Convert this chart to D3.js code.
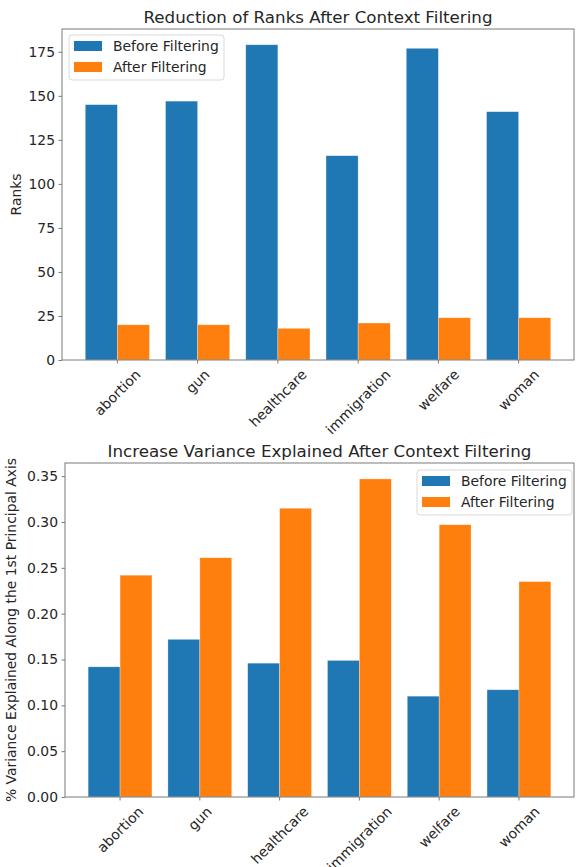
<!DOCTYPE html>
<html>
<head>
<meta charset="utf-8">
<script src="https://cdn.jsdelivr.net/npm/d3@7"></script>
<style>
  body { margin: 0; background: #fff; }
  text { font-family: "DejaVu Sans", sans-serif; fill: #262626; }
</style>
</head>
<body>
<script>
/* data */
var topics = ['abortion', 'gun', 'healthcare', 'immigration', 'welfare', 'woman'];
var seriesNames = ['Before Filtering', 'After Filtering'];
var colors = ['#1f77b4', '#ff7f0e'];
var ranksBefore = [145, 147, 179, 116, 177, 141];
var ranksAfter = [20, 20, 18, 21, 24, 24];
var rankTicks = [0, 25, 50, 75, 100, 125, 150, 175];
var varBefore = [0.142, 0.172, 0.146, 0.149, 0.110, 0.117];
var varAfter = [0.242, 0.261, 0.315, 0.347, 0.297, 0.235];
var varTicks = [0, 0.05, 0.10, 0.15, 0.20, 0.25, 0.30, 0.35];

var FS = 13.9; // 10pt
var svg = d3.select('body').append('svg')
  .attr('width', 577)
  .attr('height', 867);

function drawPanel(opt) {
  var g = svg.append('g');
  var x = d3.scaleLinear().domain([-0.69, 5.69]).range([opt.left, opt.right]);
  var maxV = d3.max(opt.before.concat(opt.after)) * 1.05;
  var y = d3.scaleLinear().domain([0, maxV]).range([opt.bottom, opt.top]);
  var bw = x(0.4) - x(0);

  // bars
  [opt.before, opt.after].forEach(function (vals, s) {
    g.selectAll(null).data(vals).enter().append('rect')
      .attr('x', function (d, i) { return s === 0 ? x(i - 0.4) : x(i); })
      .attr('y', function (d) { return y(d); })
      .attr('width', bw)
      .attr('height', function (d) { return y(0) - y(d); })
      .attr('fill', colors[s])
      .attr('stroke', '#fff')
      .attr('stroke-opacity', 0.5)
      .attr('stroke-width', 0.6);
  });

  // frame
  g.append('rect')
    .attr('x', opt.left).attr('y', opt.top)
    .attr('width', opt.right - opt.left).attr('height', opt.bottom - opt.top)
    .attr('fill', 'none').attr('stroke', '#7a7a7a').attr('stroke-width', 1);

  // y axis
  var yAxis = d3.axisLeft(y).tickValues(opt.ticks).tickSize(3.5).tickPadding(3.5)
    .tickFormat(opt.fmt);
  var ya = g.append('g').attr('transform', 'translate(' + opt.left + ',0)').call(yAxis);
  ya.select('.domain').remove();
  ya.selectAll('line').attr('stroke', '#7a7a7a');
  ya.selectAll('text').attr('font-size', FS).attr('fill', '#262626')
    .style('font-family', '"DejaVu Sans", sans-serif');

  // x ticks + rotated labels
  topics.forEach(function (t, i) {
    g.append('line')
      .attr('x1', x(i)).attr('x2', x(i))
      .attr('y1', opt.bottom).attr('y2', opt.bottom + 3.5)
      .attr('stroke', '#7a7a7a');
    var lbl = g.append('text')
      .attr('font-size', FS)
      .attr('text-anchor', 'middle')
      .attr('dominant-baseline', 'central')
      .text(t);
    var w = lbl.node().getComputedTextLength();
    var half = (w + FS) * Math.SQRT1_2 / 2;
    lbl.attr('transform', 'translate(' + x(i) + ',' + (opt.bottom + 7 + half) + ') rotate(-45)');
  });

  // title
  g.append('text')
    .attr('x', (opt.left + opt.right) / 2)
    .attr('y', opt.top - 6)
    .attr('text-anchor', 'middle')
    .attr('font-size', 16.7)
    .text(opt.title);

  // y label
  g.append('text')
    .attr('transform', 'translate(' + opt.ylabX + ',' + ((opt.top + opt.bottom) / 2) + ') rotate(-90)')
    .attr('text-anchor', 'middle')
    .attr('font-size', FS)
    .text(opt.ylabel);

  // legend
  var lg = g.append('g').attr('transform', 'translate(' + opt.legX + ',' + opt.legY + ')');
  lg.append('rect')
    .attr('width', 155).attr('height', 45)
    .attr('rx', 3)
    .attr('fill', '#fff').attr('fill-opacity', 0.8)
    .attr('stroke', '#d9d9d9');
  seriesNames.forEach(function (n, k) {
    lg.append('rect')
      .attr('x', 5).attr('y', 6 + k * 21)
      .attr('width', 28).attr('height', 10)
      .attr('fill', colors[k]);
    lg.append('text')
      .attr('x', 44).attr('y', 11 + k * 21)
      .attr('dominant-baseline', 'central')
      .attr('font-size', FS)
      .text(n);
  });
}

drawPanel({
  left: 62, right: 574, top: 29, bottom: 360,
  before: ranksBefore, after: ranksAfter, ticks: rankTicks,
  fmt: d3.format('d'),
  title: 'Reduction of Ranks After Context Filtering',
  ylabel: 'Ranks', ylabX: 21,
  legX: 69, legY: 35
});

drawPanel({
  left: 65, right: 574, top: 463, bottom: 797,
  before: varBefore, after: varAfter, ticks: varTicks,
  fmt: d3.format('.2f'),
  title: 'Increase Variance Explained After Context Filtering',
  ylabel: '% Variance Explained Along the 1st Principal Axis', ylabX: 16,
  legX: 417, legY: 470
});
</script>
</body>
</html>
